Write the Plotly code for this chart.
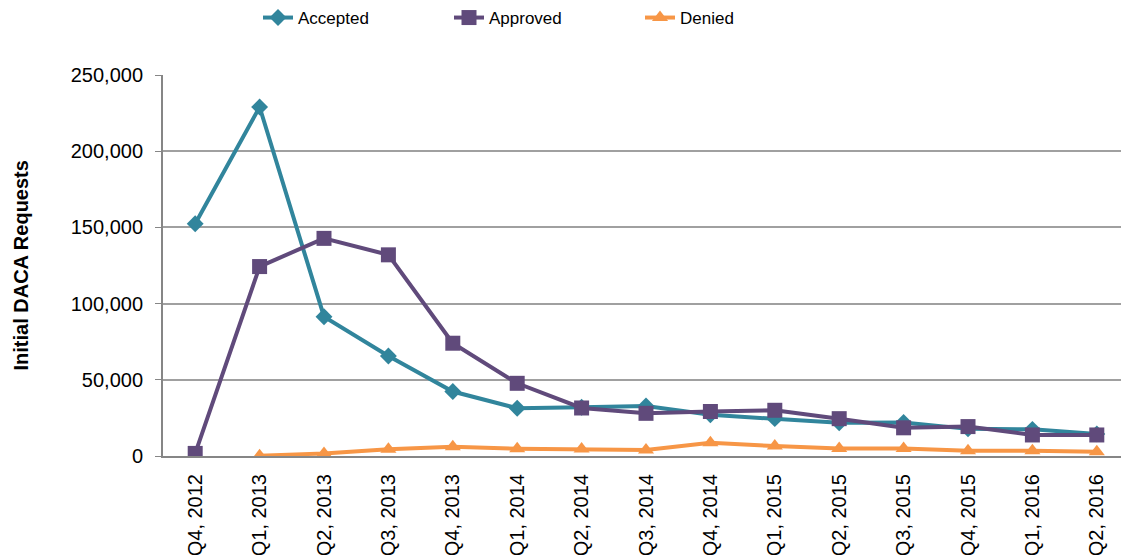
import plotly.graph_objects as go

quarters = ["Q4, 2012", "Q1, 2013", "Q2, 2013", "Q3, 2013", "Q4, 2013",
            "Q1, 2014", "Q2, 2014", "Q3, 2014", "Q4, 2014", "Q1, 2015",
            "Q2, 2015", "Q3, 2015", "Q4, 2015", "Q1, 2016", "Q2, 2016"]
accepted = [152400, 229000, 91400, 65600, 42300, 31300, 32000, 32800,
            27000, 24500, 21800, 22000, 17800, 17500, 14500]
approved = [1700, 124300, 142800, 132000, 74000, 47700, 31500, 28000,
            29200, 30000, 24500, 18500, 19300, 13800, 13800]
denied = [None, 200, 1700, 4500, 6000, 4800, 4600, 4000,
          8700, 6500, 5000, 5000, 3500, 3500, 2800]

W, H = 1121, 547  # page body has an 8px margin

fig = go.Figure()
fig.add_trace(go.Scatter(x=quarters, y=accepted, name="Accepted", mode="lines+markers",
                         line=dict(color="#31859C", width=4),
                         marker=dict(symbol="diamond", size=13, color="#31859C")))
fig.add_trace(go.Scatter(x=quarters, y=approved, name="Approved", mode="lines+markers",
                         line=dict(color="#604A7B", width=4),
                         marker=dict(symbol="square", size=15, color="#604A7B")))
fig.add_trace(go.Scatter(x=quarters, y=denied, name="Denied", mode="lines+markers",
                         line=dict(color="#F79646", width=4),
                         marker=dict(symbol="triangle-up", size=14, color="#F79646")))

fig.update_layout(
    width=W, height=H,
    margin=dict(l=155, r=0, t=67, b=99, autoexpand=False),
    paper_bgcolor="white", plot_bgcolor="white",
    font=dict(family="Liberation Sans, Arial", size=19, color="black"),
    legend=dict(orientation="h", xref="container", yref="container",
                x=250 / W, xanchor="left", y=1 - 10 / H, yanchor="middle",
                entrywidth=146, entrywidthmode="pixels", itemwidth=30,
                font=dict(size=17), bgcolor="rgba(0,0,0,0)"),
    showlegend=True,
)
fig.update_xaxes(type="category", range=[-0.5, len(quarters) - 0.5],
                 showline=True, linecolor="#868686", linewidth=2,
                 tickangle=-90, ticks="", showgrid=False, tickfont=dict(size=20),
                 automargin=False, ticklabelstandoff=8)
fig.update_yaxes(range=[0, 250000], dtick=50000, tickformat=",", showline=True,
                 linecolor="#868686", linewidth=2, ticks="outside", ticklen=6,
                 tickcolor="#868686", gridcolor="#A0A0A0", gridwidth=1.5,
                 zeroline=False, tickfont=dict(size=20), automargin=False,
                 ticklabelstandoff=8)
fig.add_annotation(text="<b>Initial DACA Requests</b>", xref="paper", yref="paper",
                   x=0, y=0.5, xanchor="center", yanchor="middle", xshift=-143,
                   textangle=-90, showarrow=False, borderpad=0,
                   font=dict(size=20, color="black"))

fig.write_html("out.html")
